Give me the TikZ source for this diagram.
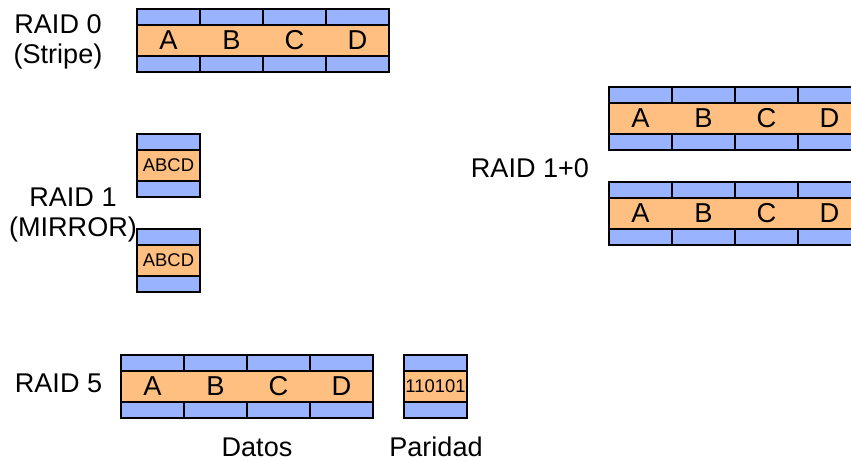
\documentclass[tikz,border=0pt]{standalone}
\usepackage{fontspec}
\setmainfont{Liberation Sans}
\definecolor{discoazul}{RGB}{153,179,255}
\definecolor{disconaranja}{RGB}{255,191,128}
\tikzset{
  banda/.style={draw=black,fill=discoazul,line width=1.1pt},
  franja/.style={draw=black,fill=disconaranja,line width=1.1pt},
  titulo/.style={font=\fontsize{20.3}{22.5}\selectfont,align=center,inner sep=0pt},
  letra/.style={font=\fontsize{20.5}{22}\selectfont,inner sep=0pt},
  letrita/.style={font=\fontsize{13.8}{16}\selectfont,inner sep=0pt}
}
% \tira{x}{y}{n}: n discos con la franja de datos encima
\newcommand{\tira}[3]{
  \foreach \i in {1,...,#3}{
    \draw[banda] ({#1+63*(\i-1)},#2) rectangle ++(63,16);
    \draw[banda] ({#1+63*(\i-1)},#2+47) rectangle ++(63,16);
  }
  \draw[franja] (#1,#2+16) rectangle ++(63*#3,31);
}
\begin{document}
\begin{tikzpicture}[x=0.75pt,y=-0.75pt]
\clip (0,0) rectangle (851,461);
% RAID 0
\node[titulo] (raid0) at (58,41.5) {RAID 0\\(Stripe)};
\tira{137}{9}{4}
\foreach \l [count=\i] in {A,B,C,D}
  \node[letra] (r0\l) at ({137+63*\i-31.5},40.5) {\l};
% RAID 1
\node[titulo] (raid1) at (73,215) {RAID 1\\(MIRROR)};
\tira{137}{134}{1}
\tira{137}{229}{1}
\node[letrita] (r1a) at (168.5,165.5) {ABCD};
\node[letrita] (r1b) at (168.5,260.5) {ABCD};
% RAID 1+0
\node[titulo] (raid10) at (530,168.5) {RAID 1+0};
\tira{609}{87}{4}
\tira{609}{182}{4}
\foreach \l [count=\i] in {A,B,C,D}{
  \node[letra] (r10a\l) at ({609+63*\i-31.5},118.5) {\l};
  \node[letra] (r10b\l) at ({609+63*\i-31.5},213.5) {\l};
}
% RAID 5
\node[titulo] (raid5) at (58.5,383) {RAID 5};
\tira{121}{355}{4}
\tira{404}{355}{1}
\foreach \l [count=\i] in {A,B,C,D}
  \node[letra] (r5\l) at ({121+63*\i-31.5},386.5) {\l};
\node[letrita] (paridad) at (435.5,386.5) {110101};
\node[titulo] (datos) at (257,447) {Datos};
\node[titulo] (par) at (436,447) {Paridad};
\end{tikzpicture}
\end{document}
